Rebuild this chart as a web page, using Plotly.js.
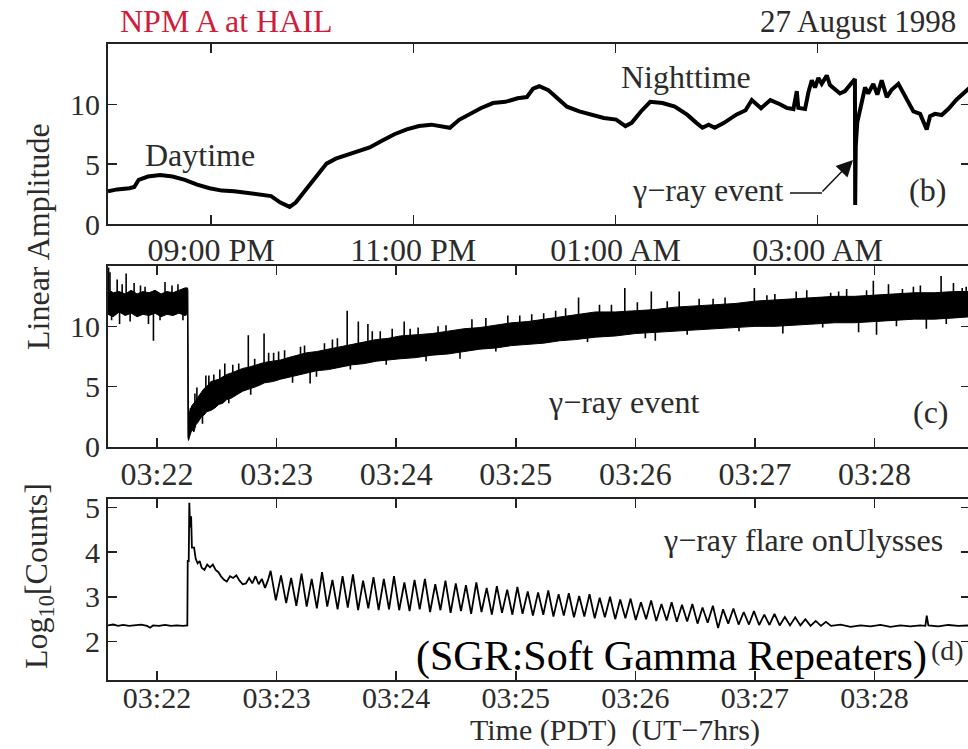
<!DOCTYPE html>
<html>
<head>
<meta charset="utf-8">
<script src="https://cdn.plot.ly/plotly-3.0.1.min.js"></script>
<style>
html,body{margin:0;padding:0;background:#fff;overflow:hidden;}
#chart{width:974px;height:749px;}
</style>
</head>
<body>
<div id="chart"></div>
<script>
// ---------- Panel (b): NPM A amplitude, minutes after 20:00 PDT (26 Aug) ----------
const bMinutes = [-1.2, 4.2, 11.5, 14.4, 17.0, 22.5, 29.8, 37.1, 44.4, 51.7,
  59.1, 66.4, 73.7, 81.0, 88.3, 95.6, 101.1, 104.7, 106.6, 110.2,
  115.7, 121.2, 128.5, 134.0, 139.5, 146.8, 154.1, 161.4, 168.8, 176.1,
  183.4, 190.7, 198.0, 201.7, 207.2, 212.7, 220.0, 227.3, 234.6, 241.9,
  247.4, 251.1, 254.7, 260.2, 265.7, 271.2, 278.5, 285.8, 293.1, 300.4,
  305.9, 309.6, 315.1, 320.6, 327.9, 335.2, 342.5, 348.0, 351.6, 355.3,
  358.9, 364.4, 371.7, 377.2, 380.9, 386.4, 391.9, 397.6, 401.6, 405.6,
  407.6, 408.5, 412.5, 414.5, 416.5, 418.4, 420.4, 422.4, 425.4, 427.3,
  430.3, 433.2, 436.2, 439.2, 442.1, 442.25, 442.3, 442.6, 443.5, 445.1,
  446.7, 448.1, 450.0, 453.0, 455.4, 458.0, 461.0, 463.9, 467.9, 470.9,
  473.8, 476.8, 480.8, 483.2, 484.7, 486.7, 489.6, 493.6, 497.5, 502.5,
  506.4, 510.4];
const bAmplitude = [2.75, 2.9, 3.0, 3.1, 3.7, 3.97, 4.1, 3.97, 3.7, 3.3,
  3.0, 2.8, 2.75, 2.6, 2.47, 2.34, 1.8, 1.6, 1.44, 1.8,
  2.75, 3.7, 5.05, 5.46, 5.73, 6.0, 6.4, 6.96, 7.5, 7.9,
  8.18, 8.3, 8.18, 8.04, 8.7, 9.13, 9.67, 10.1, 10.2, 10.5,
  10.6, 11.3, 11.5, 11.17, 10.5, 9.8, 9.4, 9.13, 8.86, 8.72,
  8.18, 8.45, 9.4, 10.2, 10.1, 9.8, 9.13, 8.45, 8.04, 8.3,
  8.04, 8.45, 9.13, 9.5, 10.35, 9.67, 10.35, 10.0, 9.7, 9.6,
  11.1, 9.7, 9.6, 11.0, 12.0, 11.4, 12.2, 11.7, 12.4, 11.6,
  11.2, 10.9, 11.1, 11.6, 12.1, 1.6, 5.0, 6.5, 8.5, 9.5,
  10.8, 11.4, 10.9, 11.7, 10.8, 12.0, 10.6, 11.2, 11.7, 10.9,
  10.2, 9.4, 9.2, 8.5, 7.9, 9.0, 9.2, 9.1, 9.6, 10.4,
  10.9, 11.4];
const bTicks = ['1998-08-26 21:00', '1998-08-26 23:00', '1998-08-27 01:00', '1998-08-27 03:00'];

// ---------- Panel (c): amplitude around the event, seconds after 03:22:00 PDT ----------
const cSeconds = [-24.6, -22, -19, -16, -13, -10, -7, -4, -1, 2,
  5, 8, 11, 14, 15.3, 15.5, 15.8, 16.5, 17.5, 18.5,
  19.5, 20.5, 22, 23.5, 25, 27, 29, 31, 33, 35,
  37, 40, 43, 46, 50, 54, 58, 62, 66, 70,
  75, 80, 86, 92, 98, 104, 110, 116, 122, 130,
  138, 146, 154, 162, 170, 178, 186, 194, 202, 210,
  220, 230, 240, 250, 260, 270, 280, 290, 300, 310,
  320, 330, 340, 350, 360, 370, 380, 390, 400, 408];
const cLow = [11.0, 10.8, 11.2, 10.9, 11.1, 10.8, 11.0, 10.9, 11.1, 10.8,
  11.0, 10.9, 11.1, 10.9, 11.0, 0.8, 0.5, 0.9, 1.4, 1.2,
  1.8, 2.0, 2.4, 2.6, 2.9, 3.0, 3.2, 3.5, 3.6, 3.9,
  4.0, 4.3, 4.6, 4.8, 5.0, 5.3, 5.4, 5.6, 5.8, 5.9,
  6.1, 6.3, 6.4, 6.6, 6.8, 6.9, 7.1, 7.2, 7.3, 7.4,
  7.6, 7.7, 7.9, 8.1, 8.2, 8.4, 8.5, 8.6, 8.8, 8.9,
  9.1, 9.2, 9.4, 9.5, 9.6, 9.7, 9.8, 9.9, 10.0, 10.0,
  10.1, 10.2, 10.3, 10.3, 10.4, 10.5, 10.6, 10.6, 10.7, 10.8];
const cHigh = [13.1, 12.8, 12.9, 12.7, 13.0, 12.7, 12.9, 12.8, 13.0, 12.7,
  12.9, 12.8, 13.0, 13.2, 13.2, 13.0, 2.2, 3.0, 3.4, 3.6,
  3.8, 4.1, 4.5, 4.8, 5.0, 5.4, 5.5, 5.6, 5.8, 6.0,
  6.1, 6.3, 6.5, 6.6, 6.8, 7.0, 7.1, 7.2, 7.4, 7.6,
  7.8, 7.9, 8.1, 8.3, 8.5, 8.7, 8.9, 9.0, 9.2, 9.3,
  9.4, 9.6, 9.8, 9.9, 10.1, 10.3, 10.4, 10.6, 10.8, 11.0,
  11.2, 11.2, 11.3, 11.4, 11.6, 11.7, 11.8, 11.9, 12.1, 12.2,
  12.3, 12.4, 12.5, 12.5, 12.6, 12.7, 12.8, 12.8, 12.9, 12.9];
// individual spikes poking out of the noise band (time, start, end)
const spikeSeconds = [-24.3, -23.6, -20.0, -18.8, -15.5, -11.5, -8.3, -4.3, -1.8, 4.0,
  10.5, 16.8, 19.0, 24.5, 28.5, 34.0, 38.0, 45.8, 49.0, 53.7,
  58.5, 64.0, 72.0, 76.8, 84.0, 90.5, 95.4, 101.0, 105.8, 112.0,
  118.0, 124.0, 131.0, 141.0, 152.0, 165.0, 176.0, 188.0, 194.0, 205.0,
  211.5, 222.0, 234.7, 241.0, 248.0, 250.0, 262.0, 272.0, 285.0, 299.7,
  306.0, 314.0, 320.7, 326.0, 338.0, 346.0, 352.0, 359.4, 361.0, 367.0,
  374.0, 379.5, 386.0, 393.4, 399.6, 404.0,
  20.0, 22.8, 26.0, 31.5, 36.0, 41.0, 47.0, 56.0, 61.0, 68.0,
  74.0, 80.0, 88.0, 97.0, 108.0, 115.0, 127.0, 135.0, 145.0, 158.0,
  170.0, 182.0, 200.0, 216.0, 228.0, 245.0, 256.0, 266.0, 279.0, 292.0,
  310.0, 334.0, 342.0, 356.0, 371.0, 383.0, 396.0, 406.0,
  -22.8, -17.5, -13.5, -6.0, 1.5, 7.5, 13.0];
const spikeFrom = [12, 12, 12, 12, 12, 12, 12, 12, 12, 12,
  12, 1.5, 2.5, 3.8, 4.2, 4.8, 5.0, 5.7, 6.0, 6.2,
  6.4, 6.6, 6.9, 7.0, 7.3, 7.5, 7.7, 7.8, 8.0, 8.1,
  8.2, 8.3, 8.4, 8.6, 8.8, 9.1, 9.3, 9.5, 9.6, 9.9,
  10.1, 10.2, 10.3, 10.4, 10.5, 10.5, 10.6, 10.7, 10.9, 11.0,
  11.1, 11.2, 11.2, 11.3, 11.4, 11.4, 11.5, 11.5, 11.5, 11.6,
  11.6, 11.7, 11.7, 11.8, 11.8, 11.8,
  3.0, 3.5, 4.0, 4.5, 5.0, 5.3, 5.7, 6.2, 6.4, 6.7,
  6.9, 7.1, 7.4, 7.7, 8.0, 8.1, 8.3, 8.5, 8.6, 9.0,
  9.2, 9.4, 9.8, 10.1, 10.2, 10.4, 10.6, 10.7, 10.8, 11.0,
  11.1, 11.3, 11.4, 11.5, 11.6, 11.7, 11.8, 11.8,
  12, 12, 12, 12, 12, 12, 12];
const spikeTo = [14.9, 14.5, 13.9, 10.2, 14.4, 13.6, 13.4, 10.2, 8.8, 13.7,
  13.5, 3.2, 4.4, 5.9, 6.0, 6.9, 6.8, 9.25, 7.3, 9.4,
  7.8, 8.0, 8.3, 5.25, 8.6, 9.0, 11.3, 10.4, 10.2, 9.6,
  9.8, 10.4, 9.9, 10.0, 7.3, 10.7, 10.9, 11.0, 11.1, 11.5,
  12.4, 11.8, 13.2, 12.0, 12.9, 8.8, 12.9, 12.3, 12.4, 13.2,
  12.6, 9.4, 12.9, 13.0, 12.8, 13.1, 9.5, 13.8, 9.3, 13.5,
  13.1, 13.3, 9.8, 14.2, 13.6, 13.2,
  4.9, 1.9, 5.9, 6.4, 3.6, 6.9, 4.3, 7.8, 7.9, 5.3,
  8.4, 5.8, 8.9, 6.4, 9.6, 6.8, 9.8, 7.1, 10.1, 10.6,
  7.9, 10.9, 11.3, 8.7, 11.8, 9.0, 12.1, 9.3, 12.3, 9.6,
  12.7, 9.9, 12.9, 13.0, 10.0, 13.4, 10.2, 13.3,
  10.5, 13.5, 10.4, 13.3, 10.5, 13.4, 10.5];

// ---------- Panel (d): Ulysses log10 counts, seconds after 03:22:00 PDT ----------
const dSeconds = [-25, -22, -19.5, -17, -14, -11, -8, -5, -3.5, -2, 1, 4, 7, 10, 13, 15.2,
  15.4, 15.9, 16.2, 16.6, 17.1, 17.5, 18.6, 19.4, 20.4, 21.4, 22.4, 23.8, 25.2, 26.6,
  28.0, 29.4, 30.8, 32.2, 33.6, 35.0, 36.6, 38.2, 39.8, 41.4, 43.0, 44.6, 46.2, 47.8,
  49.4, 51.0, 52.6, 54.2, 55.6,
  57.0, 59.6, 62.2, 64.8, 67.3, 69.9, 72.5, 75.1, 77.6, 80.2,
  82.8, 85.4, 88.0, 90.6, 93.1, 95.7, 98.3, 100.9, 103.4, 106.0,
  108.6, 111.2, 113.8, 116.4, 118.9, 121.5, 124.1, 126.7, 129.2, 131.8,
  134.4, 137.0, 139.6, 142.2, 144.7, 147.3, 149.9, 152.5, 155.0, 157.6,
  160.2, 162.8, 165.4, 168.0, 170.5, 173.1, 175.7, 178.3, 180.8, 183.4,
  186.0, 188.6, 191.2, 193.8, 196.3, 198.9, 201.5, 204.1, 206.6, 209.2,
  211.8, 214.4, 217.0, 219.6, 222.1, 224.7, 227.3, 229.9, 232.4, 235.0,
  237.6, 240.2, 242.8, 245.4, 247.9, 250.5, 253.1, 255.7, 258.2, 260.8,
  263.4, 266.0, 268.6, 271.2, 273.7, 276.3, 278.9, 281.5, 284.0, 286.6,
  289.2, 291.8, 294.4, 297.0, 299.5, 302.1, 304.7, 307.3, 309.8, 312.4,
  315.0, 317.6, 320.2, 322.8, 325.3, 327.9, 330.5, 333.1, 335.6, 338.2,
  343, 348, 353, 358, 363, 368, 373, 378, 383, 385.5, 386.2, 387, 392, 397, 402, 408];
const dLogCounts = [2.36, 2.38, 2.35, 2.37, 2.35, 2.36, 2.38, 2.35, 2.31, 2.36, 2.35, 2.37, 2.35, 2.36, 2.35, 2.36,
  3.8, 3.8, 5.1, 4.55, 4.8, 4.1, 4.1, 3.85, 3.75, 3.8, 3.65, 3.6, 3.72, 3.66,
  3.72, 3.6, 3.55, 3.45, 3.38, 3.34, 3.46, 3.42, 3.48, 3.36, 3.28, 3.3, 3.42, 3.3,
  3.46, 3.28, 3.4, 3.2, 3.36,
  3.58, 2.92, 3.48, 2.86, 3.42, 2.80, 3.52, 2.78, 3.40, 2.74,
  3.55, 2.78, 3.38, 2.72, 3.46, 2.76, 3.50, 2.70, 3.36, 2.74,
  3.44, 2.70, 3.40, 2.72, 3.46, 2.70, 3.32, 2.68, 3.38, 2.72,
  3.40, 2.66, 3.28, 2.70, 3.36, 2.64, 3.30, 2.68, 3.26, 2.62,
  3.32, 2.66, 3.20, 2.60, 3.24, 2.64, 3.16, 2.60, 3.22, 2.62,
  3.12, 2.58, 3.10, 2.60, 3.14, 2.56, 3.06, 2.58, 3.08, 2.54,
  3.02, 2.56, 3.06, 2.52, 2.98, 2.54, 3.00, 2.50, 2.94, 2.52,
  2.96, 2.48, 2.88, 2.50, 2.92, 2.46, 2.84, 2.47, 2.88, 2.44,
  2.82, 2.45, 2.84, 2.40, 2.76, 2.42, 2.80, 2.30, 2.72, 2.40,
  2.74, 2.38, 2.66, 2.38, 2.68, 2.37, 2.60, 2.37, 2.62, 2.36,
  2.55, 2.36, 2.54, 2.36, 2.50, 2.35, 2.46, 2.35, 2.44, 2.35,
  2.38, 2.33, 2.36, 2.34, 2.37, 2.33, 2.36, 2.34, 2.36, 2.35, 2.58, 2.36, 2.34, 2.37, 2.35, 2.36];
const cdTicks = ['1998-08-27 03:22', '1998-08-27 03:23', '1998-08-27 03:24', '1998-08-27 03:25',
  '1998-08-27 03:26', '1998-08-27 03:27', '1998-08-27 03:28'];

// ---------- helpers ----------
const B0 = Date.UTC(1998, 7, 26, 20, 0, 0);
const C0 = Date.UTC(1998, 7, 27, 3, 22, 0);
const iso = ms => new Date(ms).toISOString().replace('T', ' ').replace('Z', '');
const bDate = m => iso(B0 + m * 60000);
const cDate = s => iso(C0 + s * 1000);

const W = 974, H = 749, ML = 108, MR = 4;
const PW = W - ML - MR;
const px = x => (x - ML) / PW;
const py = y => 1 - y / H;

const FONT = 'Liberation Serif, Times New Roman, serif';
const TXT = '#2b2b2b';

// ---------- traces ----------
const traces = [];
traces.push({
  x: bMinutes.map(bDate), y: bAmplitude, xaxis: 'x', yaxis: 'y',
  type: 'scatter', mode: 'lines', line: {color: '#000', width: 4},
  hoverinfo: 'skip'
});
const bandX = cSeconds.map(cDate).concat(cSeconds.slice().reverse().map(cDate));
const bandY = cHigh.concat(cLow.slice().reverse());
traces.push({
  x: bandX, y: bandY, xaxis: 'x2', yaxis: 'y2', type: 'scatter', mode: 'lines',
  fill: 'toself', fillcolor: '#000', line: {color: '#000', width: 1}, hoverinfo: 'skip'
});
const sx = [], sy = [];
spikeSeconds.forEach((s, i) => { sx.push(cDate(s), cDate(s), null); sy.push(spikeFrom[i], spikeTo[i], null); });
traces.push({
  x: sx, y: sy, xaxis: 'x2', yaxis: 'y2', type: 'scatter', mode: 'lines',
  line: {color: '#000', width: 1.6}, hoverinfo: 'skip'
});
traces.push({
  x: dSeconds.map(cDate), y: dLogCounts, xaxis: 'x3', yaxis: 'y3',
  type: 'scatter', mode: 'lines', line: {color: '#000', width: 1.8}, hoverinfo: 'skip'
});

// ---------- axes ----------
function xax(anchor, range, tickvals, fmt, standoff, fsize) {
  return {
    anchor: anchor, domain: [0, 1], type: 'date', range: range,
    tickmode: 'array', tickvals: tickvals, tickformat: fmt,
    ticks: 'inside', ticklen: 9, tickwidth: 1.5, tickcolor: '#222',
    showline: true, linecolor: '#222', linewidth: 2, mirror: 'allticks',
    showgrid: false, zeroline: false, ticklabelstandoff: standoff,
    tickfont: {family: FONT, size: fsize, color: TXT}
  };
}
function yax(anchor, domain, range, tickvals) {
  return {
    anchor: anchor, domain: domain, range: range,
    tickmode: 'array', tickvals: tickvals,
    ticks: 'inside', ticklen: 9, tickwidth: 1.5, tickcolor: '#222',
    showline: true, linecolor: '#222', linewidth: 2, mirror: 'allticks',
    showgrid: false, zeroline: false,
    tickfont: {family: FONT, size: 30, color: TXT}
  };
}

function ann(text, x, y, size, color, xanchor, extra) {
  return Object.assign({
    text: text, xref: 'paper', yref: 'paper', x: px(x), y: py(y),
    xanchor: xanchor || 'center', yanchor: 'middle', showarrow: false,
    font: {family: FONT, size: size, color: color || TXT}
  }, extra || {});
}

const annotations = [
  ann('NPM A at HAIL', 118, 21, 32, '#d01c3c', 'left'),
  ann('27 August 1998', 958, 21, 31, TXT, 'right'),
  ann('Linear Amplitude', 38, 237, 32, TXT, 'center', {textangle: -90}),
  ann('Log<sub>10</sub>[Counts]', 38, 576, 32, TXT, 'center', {textangle: -90}),
  ann('Daytime', 200, 155, 32),
  ann('Nighttime', 686, 77, 32),
  ann('γ\u2212ray event', 707, 190, 32),
  ann('(b)', 927, 190, 32),
  ann('γ\u2212ray event', 623, 402, 32),
  ann('(c)', 931, 412, 32),
  ann('γ\u2212ray flare onUlysses', 945, 540, 32, TXT, 'right'),
  ann('(d)', 947, 650, 28),
  ann('Time (PDT)  (UT\u22127hrs)', 615, 730, 30),
  ann('(SGR:Soft Gamma Repeaters)', 671, 656, 42, '#000'),
  {
    text: '', xref: 'paper', yref: 'paper', x: px(853), y: py(160),
    axref: 'pixel', ayref: 'pixel', ax: -32, ay: 33, showarrow: true,
    arrowhead: 2, arrowsize: 2.2, arrowwidth: 1.5, arrowcolor: '#111', standoff: 0
  }
];

const shapes = [
  {type: 'line', xref: 'paper', yref: 'paper', x0: px(790), x1: px(822), y0: py(193), y1: py(193),
   line: {color: '#111', width: 1.5}}
];

const layout = {
  width: W, height: H,
  margin: {l: ML, r: MR, t: 0, b: 0},
  paper_bgcolor: '#fff', plot_bgcolor: '#fff',
  showlegend: false,
  xaxis: xax('y', [bDate(-1.2), bDate(510.4)], bTicks, '%I:%M %p', -4, 32),
  yaxis: yax('x', [py(224.3), py(44.3)], [-0.01, 15], [0, 5, 10]),
  xaxis2: xax('y2', [cDate(-24.6), cDate(407.9)], cdTicks, '%H:%M', -2, 32),
  yaxis2: yax('x2', [py(446.7), py(265.7)], [-0.02, 15.05], [0, 5, 10]),
  xaxis3: xax('y3', [cDate(-24.6), cDate(407.9)], cdTicks, '%H:%M', -10, 30),
  yaxis3: yax('x3', [py(680), py(499.3)], [1.14, 5.18], [2, 3, 4, 5]),
  annotations: annotations,
  shapes: shapes
};

Plotly.newPlot('chart', traces, layout, {displayModeBar: false, staticPlot: true});
</script>
</body>
</html>
